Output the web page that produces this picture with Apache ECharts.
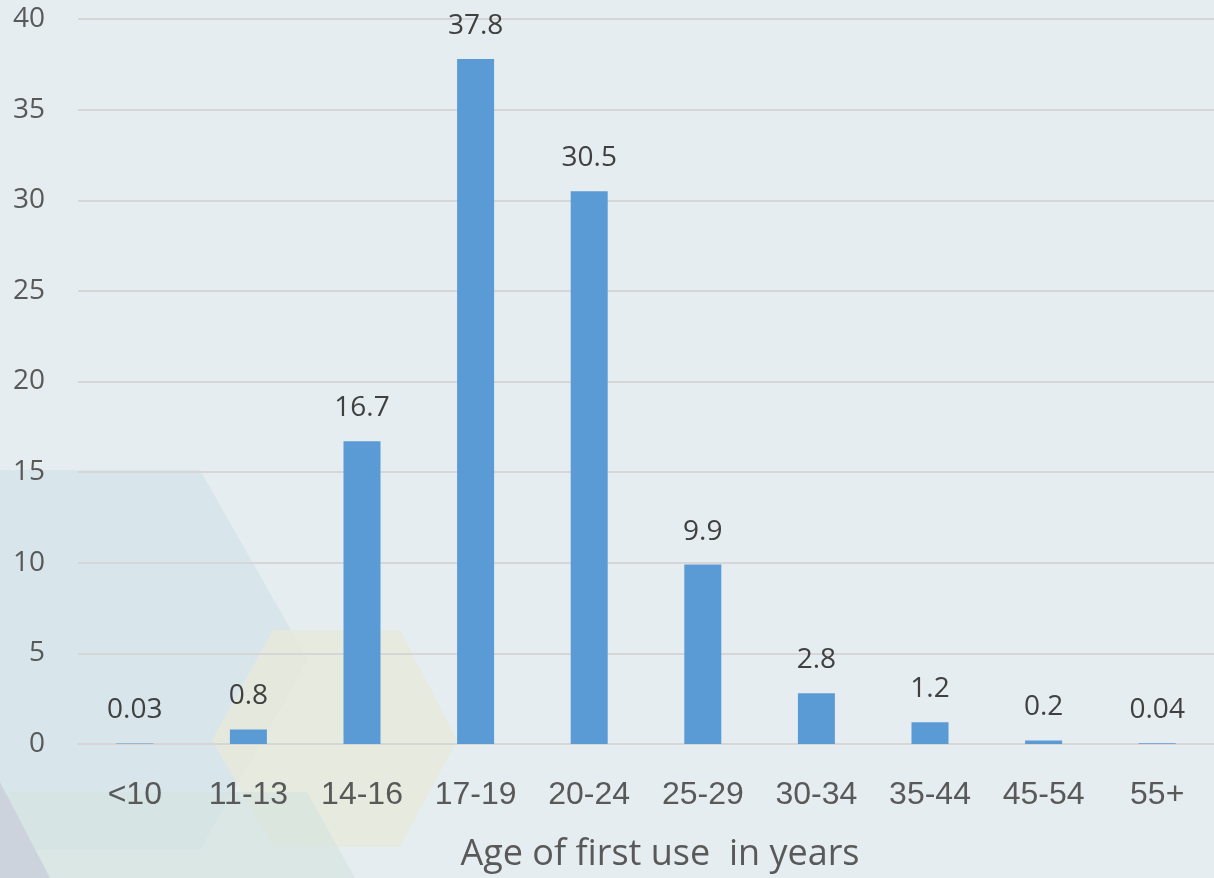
<!DOCTYPE html>
<html><head><meta charset="utf-8">
<script src="https://cdn.jsdelivr.net/npm/echarts@6/dist/echarts.min.js"></script>
<style>html,body{margin:0;padding:0;background:#E5EDF0;overflow:hidden;}#c{width:1214px;height:878px;}</style>
</head><body><div id="c"></div>
<script>
const categories = ['<10','11-13','14-16','17-19','20-24','25-29','30-34','35-44','45-54','55+'];
const values = [0.03, 0.8, 16.7, 37.8, 30.5, 9.9, 2.8, 1.2, 0.2, 0.04];
const labels = ['0.03','0.8','16.7','37.8','30.5','9.9','2.8','1.2','0.2','0.04'];
const xTitle = 'Age of first use  in years';

const chart = echarts.init(document.getElementById('c'), null, {renderer:'canvas'});
chart.setOption({
  backgroundColor: '#E5EDF0',
  animation: false,
  graphic: [
    {type:'polygon', z:-10, shape:{points:[[0,470],[200,470],[308,660],[200,850],[0,850]]}, style:{fill:'#D8E5EB'}},
    {type:'polygon', z:-9, shape:{points:[[273,630],[400,630],[457,740],[400,847],[273,847],[212,740]]}, style:{fill:'rgba(232,233,218,0.85)'}},
    {type:'polygon', z:-8, shape:{points:[[10,792],[307,792],[355,878],[0,878],[0,810]]}, style:{fill:'rgba(214,228,224,0.7)'}},
    {type:'polygon', z:-7, shape:{points:[[0,782],[50,878],[0,878]]}, style:{fill:'#CDD3DD'}}
  ],
  grid: {left:78, right:-5, top:19, bottom:130, containLabel:false},
  xAxis: {
    type:'category', data:categories,
    axisLine:{show:true, lineStyle:{color:'#D6D6D6', width:2}},
    axisTick:{show:false},
    axisLabel:{color:'#595959', fontSize:32, fontFamily:'Liberation Sans, Arial, sans-serif', margin:35},
    name:xTitle, nameLocation:'middle', nameGap:93,
    nameTextStyle:{color:'#595959', fontSize:36, fontFamily:'Open Sans, sans-serif', padding:[0,0,0,28]}
  },
  yAxis: {
    type:'value', min:0, max:40, interval:5,
    axisLine:{show:false}, axisTick:{show:false},
    splitLine:{lineStyle:{color:'#D6D6D6', width:2}},
    axisLabel:{color:'#595959', fontSize:28, fontFamily:'Open Sans, sans-serif', margin:33}
  },
  series: [{
    type:'bar', data:values, barWidth:37,
    itemStyle:{color:'#5B9BD5'},
    label:{show:true, position:'top', distance:19, color:'#404040', fontSize:28,
      fontFamily:'Open Sans, sans-serif',
      formatter: p => labels[p.dataIndex]}
  }]
});
</script></body></html>
